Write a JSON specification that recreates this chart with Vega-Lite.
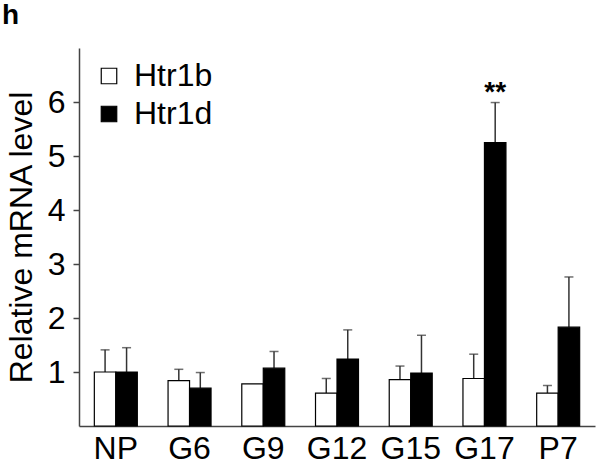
{
  "$schema": "https://vega.github.io/schema/vega-lite/v6.json",
  "autosize": "none",
  "width": 516,
  "height": 378,
  "padding": {"left": 79, "top": 48, "right": 7, "bottom": 38},
  "background": "white",
  "config": {
    "font": "Liberation Sans",
    "view": {"stroke": null}
  },
  "title": {
    "text": "h",
    "anchor": "start",
    "frame": "group",
    "dx": -77,
    "offset": 18,
    "fontSize": 28,
    "fontWeight": "bold",
    "color": "black"
  },
  "data": {
    "values": [
      {"stage": "NP", "gene": "Htr1b", "value": 1.0, "upper": 1.41},
      {"stage": "NP", "gene": "Htr1d", "value": 1.0, "upper": 1.45},
      {"stage": "G6", "gene": "Htr1b", "value": 0.84, "upper": 1.05},
      {"stage": "G6", "gene": "Htr1d", "value": 0.70, "upper": 0.99},
      {"stage": "G9", "gene": "Htr1b", "value": 0.78, "upper": 0.78},
      {"stage": "G9", "gene": "Htr1d", "value": 1.07, "upper": 1.38},
      {"stage": "G12", "gene": "Htr1b", "value": 0.61, "upper": 0.88},
      {"stage": "G12", "gene": "Htr1d", "value": 1.24, "upper": 1.78},
      {"stage": "G15", "gene": "Htr1b", "value": 0.86, "upper": 1.11},
      {"stage": "G15", "gene": "Htr1d", "value": 0.98, "upper": 1.68},
      {"stage": "G17", "gene": "Htr1b", "value": 0.88, "upper": 1.33},
      {"stage": "G17", "gene": "Htr1d", "value": 5.25, "upper": 5.99, "sig": "**"},
      {"stage": "P7", "gene": "Htr1b", "value": 0.61, "upper": 0.75},
      {"stage": "P7", "gene": "Htr1d", "value": 1.83, "upper": 2.76}
    ]
  },
  "encoding": {
    "x": {
      "field": "stage",
      "type": "nominal",
      "sort": ["NP", "G6", "G9", "G12", "G15", "G17", "P7"],
      "scale": {"paddingInner": 0.417, "paddingOuter": 0.208},
      "axis": {
        "title": null,
        "labelAngle": 0,
        "labelFontSize": 32,
        "labelColor": "black",
        "labelPadding": 7,
        "ticks": false,
        "domainColor": "#444",
        "domainWidth": 1.5,
        "grid": false
      }
    },
    "xOffset": {
      "field": "gene",
      "type": "nominal",
      "sort": ["Htr1b", "Htr1d"],
      "scale": {"paddingInner": 0, "paddingOuter": 0}
    }
  },
  "layer": [
    {
      "mark": {"type": "rule", "color": "#333", "strokeWidth": 1.5},
      "encoding": {
        "y": {"field": "value", "type": "quantitative"},
        "y2": {"field": "upper"}
      }
    },
    {
      "transform": [{"filter": "datum.upper > datum.value"}],
      "mark": {"type": "tick", "color": "#333", "size": 9, "thickness": 1.5},
      "encoding": {
        "y": {"field": "upper", "type": "quantitative"}
      }
    },
    {
      "mark": {"type": "bar", "stroke": "black", "strokeWidth": 1.2},
      "encoding": {
        "y": {
          "field": "value",
          "type": "quantitative",
          "scale": {"domain": [0, 7], "nice": false},
          "axis": {
            "title": "Relative mRNA level",
            "titleFontSize": 32,
            "titleFontWeight": "normal",
            "titleColor": "black",
            "titlePadding": 9,
            "values": [1, 2, 3, 4, 5, 6],
            "format": "d",
            "labelFontSize": 32,
            "labelColor": "black",
            "labelPadding": 8,
            "tickSize": 6,
            "tickColor": "#444",
            "tickWidth": 1.5,
            "domainColor": "#444",
            "domainWidth": 1.5,
            "grid": false
          }
        },
        "fill": {
          "field": "gene",
          "type": "nominal",
          "scale": {"domain": ["Htr1b", "Htr1d"], "range": ["white", "black"]},
          "legend": {
            "title": null,
            "orient": "none",
            "legendX": 14,
            "legendY": 12,
            "symbolType": "square",
            "symbolSize": 240,
            "symbolStrokeColor": "black",
            "symbolStrokeWidth": 1.2,
            "labelFontSize": 32,
            "labelColor": "black",
            "labelOffset": 9,
            "rowPadding": 6
          }
        }
      }
    },
    {
      "transform": [{"filter": "datum.sig"}],
      "mark": {"type": "text", "fontSize": 28, "fontWeight": "bold", "baseline": "bottom", "dy": 4, "color": "black"},
      "encoding": {
        "y": {"field": "upper", "type": "quantitative"},
        "text": {"field": "sig"}
      }
    }
  ]
}
